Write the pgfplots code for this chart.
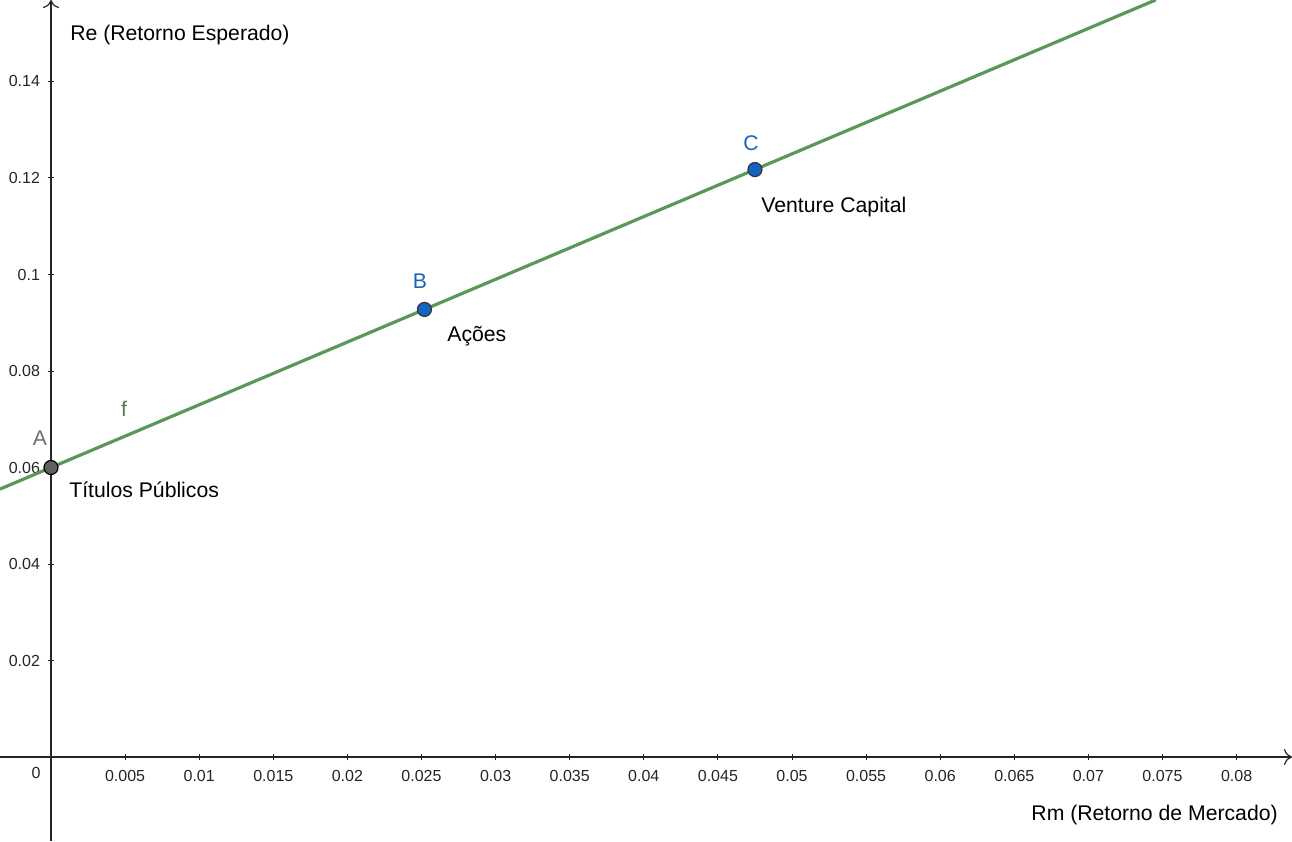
\documentclass[border=0pt]{standalone}
\usepackage{fontspec}
\setmainfont{Liberation Sans}
\usepackage{pgfplots}
\pgfplotsset{compat=1.18}
\usetikzlibrary{arrows.meta}
\definecolor{lineg}{RGB}{90,152,90}
\definecolor{ptblue}{RGB}{21,101,192}
\definecolor{ptgray}{RGB}{97,97,97}
\definecolor{axcol}{RGB}{37,37,37}
\definecolor{lblgray}{RGB}{110,110,110}
\newcommand\tl[1]{\textnormal{#1}}
\begin{document}
\begin{tikzpicture}
\begin{axis}[
  scale only axis,
  width=646pt, height=420.5pt,
  xmin=-0.003441, xmax=0.083738,
  ymin=-0.017409, ymax=0.156891,
  axis lines=middle,
  axis line style={draw=axcol, line width=0.6pt, -{To[length=4pt,width=8pt]}},
  scaled x ticks=false, scaled y ticks=false,
  xtick={0.005,0.01,0.015,0.02,0.025,0.03,0.035,0.04,0.045,0.05,0.055,0.06,0.065,0.07,0.075,0.08},
  xticklabels={\tl{0.005},\tl{0.01},\tl{0.015},\tl{0.02},\tl{0.025},\tl{0.03},\tl{0.035},\tl{0.04},\tl{0.045},\tl{0.05},\tl{0.055},\tl{0.06},\tl{0.065},\tl{0.07},\tl{0.075},\tl{0.08}},
  ytick={0.02,0.04,0.06,0.08,0.1,0.12,0.14},
  yticklabels={\tl{0.02},\tl{0.04},\tl{0.06},\tl{0.08},\tl{0.1},\tl{0.12},\tl{0.14}},
  major tick length=3pt,
  tick style={draw=axcol, line width=0.5pt},
  xticklabel style={font=\fontsize{8}{9}\selectfont, text=axcol, yshift=-1.5pt},
  yticklabel style={font=\fontsize{8}{9}\selectfont, text=axcol, xshift=-0.5pt},
  clip=false,
]
\addplot[lineg, line width=1.6pt] coordinates {(-0.003441,0.055527) (0.07454,0.156902)};
\addplot[only marks, mark=*, mark size=3.5pt, mark options={fill=ptgray, draw=black, line width=0.6pt}] coordinates {(0,0.06)};
\addplot[only marks, mark=*, mark size=3.5pt, mark options={fill=ptblue, draw=black!80, line width=0.6pt}] coordinates {(0.0252,0.09276) (0.0475,0.12175)};
\node[font=\fontsize{10.6}{12}\selectfont, anchor=west, inner sep=0pt] at (axis cs:0.00128,0.1496) {Re (Retorno Esperado)};
\node[font=\fontsize{10.6}{12}\selectfont, anchor=east, inner sep=0pt] at (axis cs:0.0828,-0.0120) {Rm (Retorno de Mercado)};
\node[font=\fontsize{8}{9}\selectfont, text=axcol, inner sep=0pt] at (axis cs:-0.00101,-0.0033) {0};
\node[font=\fontsize{10.6}{12}\selectfont, text=lblgray, inner sep=0pt] at (axis cs:-0.00074,0.0661) {A};
\node[font=\fontsize{10.6}{12}\selectfont, text=lineg!85!black, inner sep=0pt] at (axis cs:0.00493,0.0721) {f};
\node[font=\fontsize{10.6}{12}\selectfont, text=ptblue, inner sep=0pt] at (axis cs:0.0249,0.0987) {B};
\node[font=\fontsize{10.6}{12}\selectfont, text=ptblue, inner sep=0pt] at (axis cs:0.04723,0.1273) {C};
\node[font=\fontsize{10.6}{12}\selectfont, anchor=west, inner sep=0pt] at (axis cs:0.00121,0.0553) {Títulos Públicos};
\node[font=\fontsize{10.6}{12}\selectfont, anchor=west, inner sep=0pt] at (axis cs:0.02672,0.0873) {Ações};
\node[font=\fontsize{10.6}{12}\selectfont, anchor=west, inner sep=0pt] at (axis cs:0.04791,0.1140) {Venture Capital};
\end{axis}
\pgfresetboundingbox
\useasboundingbox (current axis.south west) rectangle (current axis.north east);
\end{tikzpicture}
\end{document}
